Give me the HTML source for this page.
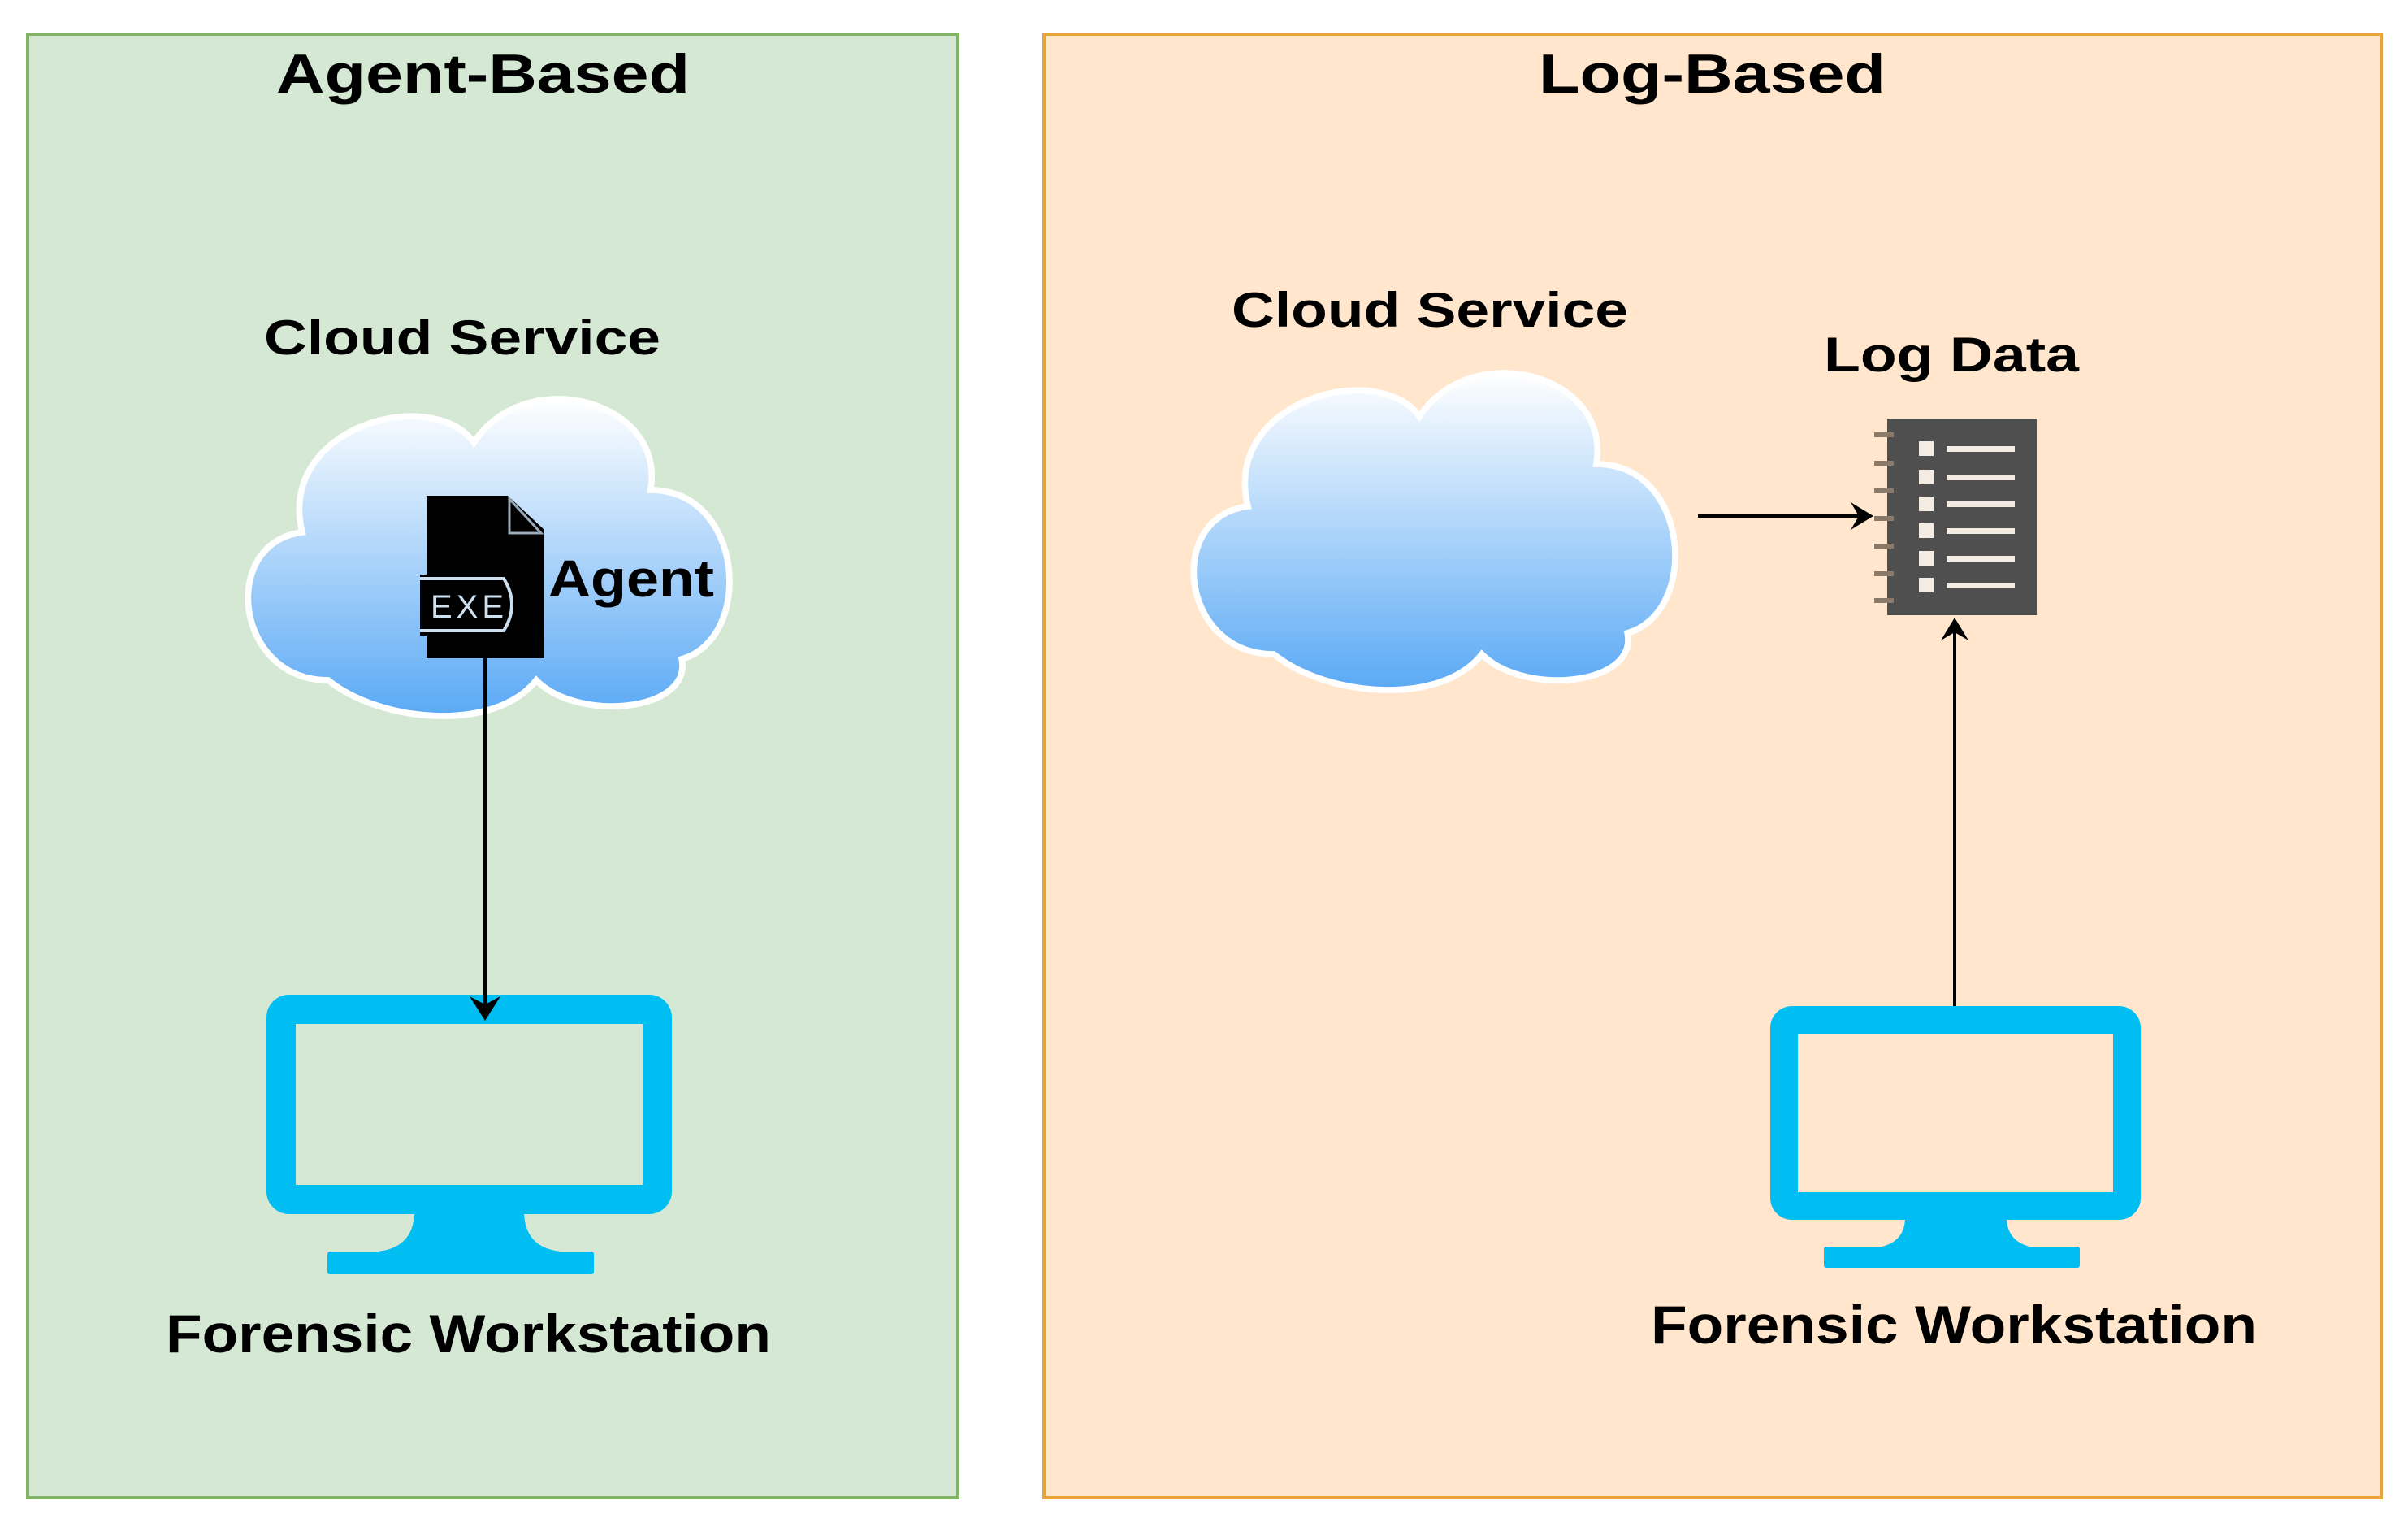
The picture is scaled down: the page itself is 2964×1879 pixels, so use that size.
<!DOCTYPE html>
<html><head><meta charset="utf-8"><style>
html,body{margin:0;padding:0;background:#fff;}
svg{display:block;}
text{font-family:"Liberation Sans",sans-serif;font-weight:bold;fill:#000;}
</style></head><body>
<svg width="2964" height="1879" viewBox="0 0 2964 1879" xmlns="http://www.w3.org/2000/svg">
<defs>
<linearGradient id="cg" x1="0" y1="0" x2="0" y2="1">
<stop offset="0" stop-color="#ffffff"/><stop offset="1" stop-color="#5aa9f5"/>
</linearGradient>
<path id="cloud" d="M20,58 C2,58 -1,32 15,30 C10,10 40,2 48,13 C58,-2 85,5 82,22 C100,22 102,50 88,54 C90,64 68,66 60,58 C52,68 30,66 20,58 Z"/>
</defs>
<rect x="34" y="42" width="1145" height="1801" fill="#d5e8d4" stroke="#82b366" stroke-width="4"/>
<rect x="1285" y="42" width="1646" height="1801" fill="#ffe6cc" stroke="#e8a33a" stroke-width="4"/>
<text x="340" y="114" font-size="68" textLength="509" lengthAdjust="spacingAndGlyphs">Agent-Based</text>
<text x="1894" y="114" font-size="68" textLength="427" lengthAdjust="spacingAndGlyphs">Log-Based</text>

<!-- left cloud -->
<g transform="translate(276,460) scale(6.4,6.5)">
<use href="#cloud" fill="url(#cg)" stroke="#fff" stroke-width="1.2"/>
</g>
<text x="325" y="436" font-size="60" textLength="488" lengthAdjust="spacingAndGlyphs">Cloud Service</text>
<!-- EXE -->
<path d="M525,610 L625,610 L670,652 L670,810 L525,810 Z" fill="#000"/>
<path d="M627,614 L627,656 L666,656 Z" fill="#000" stroke="#9ab" stroke-width="3"/>
<path d="M517,707 L625,707 Q645,744 625,782 L517,782 Z" fill="#000"/>
<path d="M517,712 L620,712 Q640,744 620,776 L517,776" fill="none" stroke="#cde" stroke-width="4"/>
<text x="530" y="760" font-size="40" style="font-weight:normal;fill:#cfe0ee" textLength="90">EXE</text>
<text x="675" y="734" font-size="64" textLength="204" lengthAdjust="spacingAndGlyphs">Agent</text>
<!-- left monitor -->
<rect x="346" y="1242" width="463" height="234" rx="10" fill="none" stroke="#00bef2" stroke-width="36"/>
<path d="M510,1490 L645,1490 Q645,1535 690,1540 L465,1540 Q510,1535 510,1490 Z" fill="#00bef2"/>
<rect x="403" y="1540" width="328" height="28" rx="3" fill="#00bef2"/>
<text x="204" y="1664" font-size="66" textLength="745" lengthAdjust="spacingAndGlyphs">Forensic Workstation</text>
<!-- arrow left -->
<line x1="597" y1="810" x2="597" y2="1240" stroke="#000" stroke-width="4"/>
<path d="M578,1226 L597,1256 L616,1226 L597,1236 Z" fill="#000"/>

<!-- right -->
<text x="1516" y="402" font-size="60" textLength="488" lengthAdjust="spacingAndGlyphs">Cloud Service</text>
<g transform="translate(1440,428) scale(6.4,6.5)">
<use href="#cloud" fill="url(#cg)" stroke="#fff" stroke-width="1.2"/>
</g>
<text x="2245" y="457" font-size="60" textLength="314" lengthAdjust="spacingAndGlyphs">Log Data</text>
<!-- log icon -->
<rect x="2323" y="515" width="184" height="242" fill="#4f4f4f"/>
<g fill="#f4ece2">
<rect x="2362" y="543" width="18" height="18"/><rect x="2396" y="549" width="84" height="7"/>
<rect x="2362" y="578" width="18" height="18"/><rect x="2396" y="584" width="84" height="7"/>
<rect x="2362" y="611" width="18" height="18"/><rect x="2396" y="617" width="84" height="7"/>
<rect x="2362" y="644" width="18" height="18"/><rect x="2396" y="650" width="84" height="7"/>
<rect x="2362" y="678" width="18" height="18"/><rect x="2396" y="684" width="84" height="7"/>
<rect x="2362" y="711" width="18" height="18"/><rect x="2396" y="717" width="84" height="7"/>
</g>
<g fill="#8a7a6a">
<rect x="2307" y="532" width="24" height="6"/><rect x="2307" y="567" width="24" height="6"/>
<rect x="2307" y="601" width="24" height="6"/><rect x="2307" y="635" width="24" height="6"/>
<rect x="2307" y="669" width="24" height="6"/><rect x="2307" y="703" width="24" height="6"/>
<rect x="2307" y="736" width="24" height="6"/>
</g>
<!-- arrows right -->
<line x1="2090" y1="635" x2="2290" y2="635" stroke="#000" stroke-width="4"/>
<path d="M2278,618 L2306,635 L2278,652 L2288,635 Z" fill="#000"/>
<line x1="2406" y1="1238" x2="2406" y2="775" stroke="#000" stroke-width="4"/>
<path d="M2389,788 L2406,760 L2423,788 L2406,778 Z" fill="#000"/>
<!-- right monitor -->
<rect x="2196" y="1255" width="422" height="229" rx="10" fill="none" stroke="#00bef2" stroke-width="34"/>
<path d="M2345,1498 L2470,1498 Q2470,1532 2510,1536 L2305,1536 Q2345,1532 2345,1498 Z" fill="#00bef2"/>
<rect x="2245" y="1534" width="315" height="26" rx="3" fill="#00bef2"/>
<text x="2032" y="1653" font-size="66" textLength="746" lengthAdjust="spacingAndGlyphs">Forensic Workstation</text>
</svg>
</body></html>
